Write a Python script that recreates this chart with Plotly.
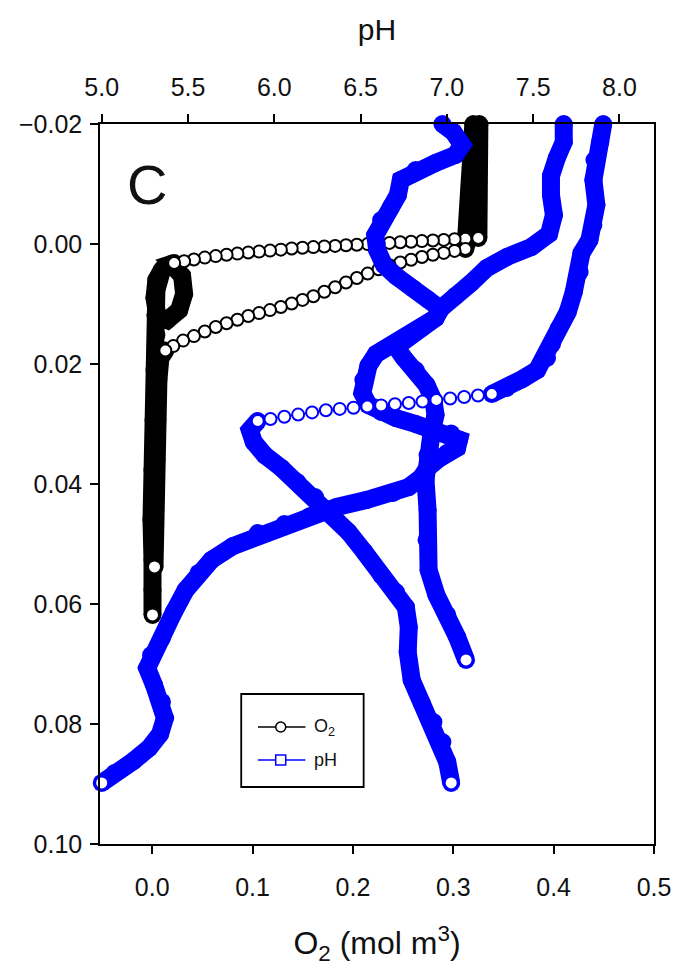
import plotly.graph_objects as go

# ---------------- O2 microprofiles (mol m^-3) vs depth (m) ----------------
# Profile 1: overlying water, steep drop through the interface, anoxic below
O2_1_WATER_DEPTH = [-0.0200, -0.0157, -0.0107, -0.0057, -0.0023, -0.0010]
O2_1_WATER = [0.326, 0.325, 0.323, 0.322, 0.323, 0.325]
O2_1_DROP_DEPTH = [-0.00100, -0.00088, -0.00078, -0.00068, -0.00058, -0.00048,
                   -0.00038, -0.00028, -0.00018, -0.00008, 0.00002, 0.00012,
                   0.00022, 0.00032, 0.00042, 0.00052, 0.00062, 0.00076,
                   0.00094, 0.00110, 0.00127, 0.00143, 0.00160, 0.00180,
                   0.00202, 0.00227, 0.00258, 0.00287, 0.00317]
O2_1_DROP = [0.3249, 0.3121, 0.3013, 0.2905, 0.2797, 0.2688, 0.2580, 0.2472,
             0.2364, 0.2256, 0.2147, 0.2039, 0.1931, 0.1823, 0.1715, 0.1606,
             0.1498, 0.1390, 0.1282, 0.1174, 0.1065, 0.0957, 0.0849, 0.0741,
             0.0633, 0.0524, 0.0416, 0.0318, 0.0219]
O2_1_SED_DEPTH = [0.00317, 0.00333, 0.00533, 0.00833, 0.01100, 0.01267,
                  0.01200, 0.00900, 0.00600, 0.00417, 0.00767, 0.01183,
                  0.01517, 0.02100, 0.02933, 0.03767, 0.04600, 0.05267,
                  0.05767, 0.06183]
O2_1_SED = [0.0219, 0.0190, 0.0298, 0.0318, 0.0269, 0.0151, 0.0052, 0.0023,
            0.0042, 0.0101, 0.0042, 0.0032, 0.0042, 0.0023, 0.0013, 0.0003,
            -0.0007, 0.0003, 0.0003, 0.0003]

# Profile 2
O2_2_WATER_DEPTH = [-0.0200, -0.0140, -0.0073, -0.0023, -0.0002, 0.00083]
O2_2_WATER = [0.320, 0.318, 0.316, 0.315, 0.314, 0.3121]
O2_2_DROP_DEPTH = [0.00083, 0.00115, 0.00148, 0.00180, 0.00217, 0.00263,
                   0.00308, 0.00355, 0.00420, 0.00493, 0.00567, 0.00642,
                   0.00720, 0.00797, 0.00872, 0.00932, 0.00992, 0.01050,
                   0.01102, 0.01152, 0.01200, 0.01262, 0.01322, 0.01383,
                   0.01458, 0.01535, 0.01610, 0.01702, 0.01775]
O2_2_DROP = [0.3121, 0.3013, 0.2905, 0.2797, 0.2688, 0.2580, 0.2472, 0.2364,
             0.2256, 0.2147, 0.2039, 0.1931, 0.1823, 0.1715, 0.1606, 0.1498,
             0.1390, 0.1282, 0.1174, 0.1065, 0.0957, 0.0849, 0.0741, 0.0633,
             0.0524, 0.0416, 0.0308, 0.0210, 0.0131]
O2_2_SED_DEPTH = [0.01775, 0.01900, 0.02267, 0.02933, 0.03600, 0.04267,
                  0.04850, 0.05383]
O2_2_SED = [0.0131, 0.0082, 0.0062, 0.0052, 0.0042, 0.0032, 0.0023, 0.0023]

# ---------------- pH microprofiles vs depth (m) ----------------
PH_A_DEPTH = [-0.0200, -0.01867, -0.0165, -0.01483, -0.0135, -0.01233,
              -0.01067, -0.00817, -0.00617, -0.0040, -0.0015, 0.0010, 0.0035,
              0.00533, 0.0075, 0.00917, 0.01067, 0.01233, 0.01383, 0.01567,
              0.0170, 0.01833, 0.02033, 0.02267, 0.02483, 0.02683, 0.0280,
              0.0290, 0.0300, 0.0310, 0.0316, 0.0326, 0.0340, 0.0348,
              0.03583, 0.03733, 0.0390, 0.0405, 0.0415, 0.04267, 0.04383,
              0.04533, 0.04667, 0.04817, 0.05033, 0.05267, 0.05483, 0.05767,
              0.06133, 0.06567, 0.0685, 0.07067, 0.0735, 0.07633, 0.0790,
              0.08167, 0.0840, 0.08617, 0.08817, 0.08983]
PH_A = [6.974, 7.037, 7.088, 7.048, 6.934, 6.819, 6.733, 6.716, 6.676, 6.619,
        6.585, 6.596, 6.636, 6.705, 6.808, 6.888, 6.957, 6.934, 6.859, 6.762,
        6.676, 6.590, 6.545, 6.516, 6.510, 6.545, 6.619, 6.705, 6.819, 6.934,
        7.025, 7.071, 7.059, 7.002, 6.951, 6.888, 6.848, 6.779, 6.688, 6.533,
        6.362, 6.207, 6.058, 5.904, 5.761, 5.635, 5.561, 5.486, 5.418, 5.349,
        5.286, 5.263, 5.303, 5.349, 5.366, 5.338, 5.275, 5.183, 5.074, 5.000]

PH_B_DEPTH = [-0.0200, -0.0170, -0.01433, -0.01133, -0.00817, -0.00483,
              -0.00167, 0.0005, 0.00217, 0.0040, 0.0065, 0.00867, 0.01067,
              0.01233, 0.01383, 0.01567, 0.01717, 0.0190, 0.0210, 0.0235,
              0.0260, 0.0285, 0.0315, 0.03517, 0.03933, 0.04433, 0.04933,
              0.05433, 0.0585, 0.06183, 0.0655, 0.06933]
PH_B = [7.677, 7.677, 7.637, 7.603, 7.603, 7.620, 7.592, 7.489, 7.346, 7.231,
        7.140, 7.048, 6.968, 6.934, 6.859, 6.762, 6.705, 6.751, 6.819, 6.882,
        6.922, 6.934, 6.911, 6.888, 6.876, 6.888, 6.882, 6.894, 6.939, 7.002,
        7.059, 7.111]

PH_C_TOP_DEPTH = [-0.0200, -0.0170, -0.0140, -0.01067, -0.0065, -0.00317,
                  -0.00067, 0.0015, 0.00467, 0.0080, 0.01133, 0.0140, 0.01667,
                  0.0190, 0.0210, 0.0225, 0.0240, 0.0250]
PH_C_TOP = [7.906, 7.889, 7.855, 7.849, 7.866, 7.849, 7.826, 7.780, 7.769,
            7.735, 7.700, 7.649, 7.609, 7.580, 7.523, 7.437, 7.346, 7.260]
PH_C_MID_DEPTH = [0.0250, 0.02525, 0.0255, 0.02575, 0.0260, 0.02625, 0.0265,
                  0.0267, 0.0269, 0.02708, 0.02728, 0.02748, 0.0277, 0.02807,
                  0.02843, 0.0288, 0.02917, 0.0295]
PH_C_MID = [7.260, 7.180, 7.100, 7.019, 6.939, 6.859, 6.779, 6.699, 6.619,
            6.539, 6.459, 6.379, 6.299, 6.219, 6.138, 6.058, 5.978, 5.904]
PH_C_LOW_DEPTH = [0.0295, 0.0310, 0.0330, 0.03517, 0.03733, 0.03967, 0.04217,
                  0.0450, 0.0480, 0.05133, 0.05517, 0.0580, 0.0605, 0.06383,
                  0.0680, 0.07267, 0.0765, 0.07967, 0.0830, 0.08633, 0.08983]
PH_C_LOW = [5.904, 5.858, 5.881, 5.944, 6.041, 6.133, 6.236, 6.339, 6.430,
            6.522, 6.619, 6.705, 6.762, 6.779, 6.773, 6.796, 6.854, 6.922,
            6.974, 7.002, 7.025]

# Axis ticks
O2_TICKS = [0.0, 0.1, 0.2, 0.3, 0.4, 0.5]
PH_TICKS = [5.0, 5.5, 6.0, 6.5, 7.0, 7.5, 8.0]
DEPTH_TICKS = [-0.02, 0.00, 0.02, 0.04, 0.06, 0.08, 0.10]

BLACK = "#000000"
BLUE = "#0000ff"
TEXT = "#111111"
FONT = "Arial, 'Liberation Sans', sans-serif"
BAND_W = 18      # width of densely sampled stretches (overlapping symbols)
MARK_SIZE = 12   # single open symbol


def dense(depth, vals, color, xaxis):
    """Densely sampled stretch: symbols overlap into a solid band."""
    return go.Scatter(x=vals, y=depth, xaxis=xaxis, yaxis="y",
                      mode="lines+markers",
                      line=dict(color=color, width=BAND_W),
                      marker=dict(color=color, size=BAND_W, line_width=0),
                      cliponaxis=False, hoverinfo="skip", showlegend=False)


def sparse(depth, vals, color, xaxis):
    """Sparsely sampled stretch: individual open symbols."""
    return go.Scatter(x=vals, y=depth, xaxis=xaxis, yaxis="y",
                      mode="lines+markers",
                      line=dict(color=color, width=1),
                      marker=dict(symbol="circle", size=MARK_SIZE,
                                  color="white",
                                  line=dict(color=color, width=2)),
                      cliponaxis=False, hoverinfo="skip", showlegend=False)


def last_point(depth, vals, color, xaxis):
    return go.Scatter(x=[vals[-1]], y=[depth[-1]], xaxis=xaxis, yaxis="y",
                      mode="markers",
                      marker=dict(symbol="circle", size=MARK_SIZE + 1,
                                  color="white",
                                  line=dict(color=color, width=2)),
                      cliponaxis=False, hoverinfo="skip", showlegend=False)


fig = go.Figure()

# O2 (bottom axis)
fig.add_trace(dense(O2_1_WATER_DEPTH, O2_1_WATER, BLACK, "x"))
fig.add_trace(dense(O2_2_WATER_DEPTH, O2_2_WATER, BLACK, "x"))
fig.add_trace(dense(O2_1_SED_DEPTH, O2_1_SED, BLACK, "x"))
fig.add_trace(dense(O2_2_SED_DEPTH, O2_2_SED, BLACK, "x"))
fig.add_trace(sparse(O2_1_DROP_DEPTH, O2_1_DROP, BLACK, "x"))
fig.add_trace(sparse(O2_2_DROP_DEPTH, O2_2_DROP, BLACK, "x"))
fig.add_trace(last_point(O2_2_SED_DEPTH, O2_2_SED, BLACK, "x"))
fig.add_trace(last_point(O2_1_SED_DEPTH, O2_1_SED, BLACK, "x"))

# pH (top axis)
fig.add_trace(dense(PH_A_DEPTH, PH_A, BLUE, "x2"))
fig.add_trace(dense(PH_B_DEPTH, PH_B, BLUE, "x2"))
fig.add_trace(dense(PH_C_TOP_DEPTH, PH_C_TOP, BLUE, "x2"))
fig.add_trace(dense(PH_C_LOW_DEPTH, PH_C_LOW, BLUE, "x2"))
fig.add_trace(sparse(PH_C_MID_DEPTH, PH_C_MID, BLUE, "x2"))
fig.add_trace(last_point(PH_A_DEPTH, PH_A, BLUE, "x2"))
fig.add_trace(last_point(PH_B_DEPTH, PH_B, BLUE, "x2"))
fig.add_trace(last_point(PH_C_LOW_DEPTH, PH_C_LOW, BLUE, "x2"))

axis_common = dict(showgrid=False, zeroline=False, showline=True,
                   linecolor=BLACK, linewidth=1.5, ticks="outside",
                   ticklen=8, tickwidth=1.5, tickcolor=BLACK,
                   tickfont=dict(family=FONT, size=25, color=TEXT))

fig.update_layout(
    width=683, height=971,
    margin=dict(l=100, r=22, t=124, b=127),
    paper_bgcolor="white", plot_bgcolor="white",
    showlegend=False,
    xaxis=dict(range=[-0.052, 0.5], tickvals=O2_TICKS, tickformat=".1f",
               ticklabelstandoff=12,
               title=dict(text="O<sub>2</sub> (mol m<sup>3</sup>)",
                          font=dict(family=FONT, size=32, color=TEXT),
                          standoff=32),
               **axis_common),
    xaxis2=dict(range=[4.99, 8.2], tickvals=PH_TICKS, tickformat=".1f",
                overlaying="x", side="top", anchor="y",
                ticklabelstandoff=8,
                title=dict(text="pH",
                           font=dict(family=FONT, size=30, color=TEXT),
                           standoff=24),
                **axis_common),
    yaxis=dict(range=[0.10, -0.02], tickvals=DEPTH_TICKS, tickformat=".2f",
               mirror=True, ticklabelstandoff=3, **axis_common),
)

# Panel letter
fig.add_annotation(text="C", xref="paper", yref="paper", x=0.0856, y=0.9153,
                   showarrow=False, xanchor="center", yanchor="middle",
                   font=dict(family=FONT, size=56, color=TEXT))

# Legend box with symbol keys
LX0, LX1, LY0, LY1 = 0.2549, 0.4759, 0.0792, 0.2083
ROWS = [(0.1625, BLACK, "circle", "O<sub>2</sub>"),
        (0.1167, BLUE, "rect", "pH")]
fig.add_shape(type="rect", xref="paper", yref="paper",
              x0=LX0, x1=LX1, y0=LY0, y1=LY1,
              line=dict(color=BLACK, width=1.8), fillcolor="white",
              layer="above")
for ry, col, sym, label in ROWS:
    fig.add_shape(type="line", xref="paper", yref="paper",
                  x0=0.2852, x1=0.3708, y0=ry, y1=ry,
                  line=dict(color=col, width=1.5), layer="above")
    fig.add_shape(type=sym, xref="paper", yref="paper",
                  xsizemode="pixel", ysizemode="pixel",
                  xanchor=0.3262, yanchor=ry, x0=-5, x1=5, y0=-5, y1=5,
                  line=dict(color=col, width=1.5), fillcolor="white",
                  layer="above")
    fig.add_annotation(text=label, xref="paper", yref="paper", x=0.383, y=ry,
                       showarrow=False, xanchor="left", yanchor="middle",
                       font=dict(family=FONT, size=18, color=TEXT))

fig.write_html("out.html")
